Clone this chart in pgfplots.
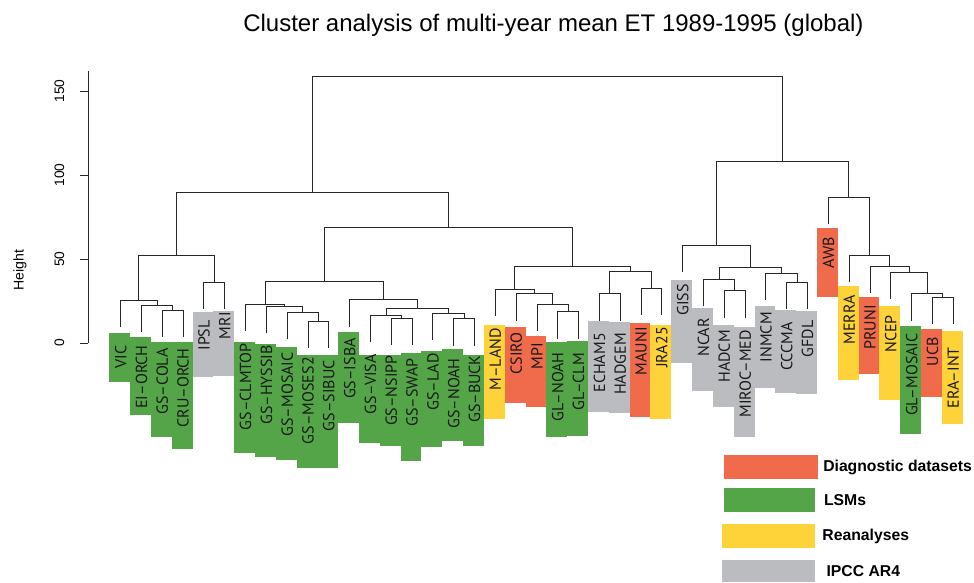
\documentclass[border=0pt]{standalone}
\usepackage{pgfplots}
\pgfplotsset{compat=1.18}
\usepackage{fontspec}
\setmainfont{Liberation Sans}
\newfontfamily\leaffont{PT Sans}
\definecolor{cRed}{RGB}{240,107,76}
\definecolor{cGreen}{RGB}{84,165,72}
\definecolor{cYellow}{RGB}{254,211,58}
\definecolor{cGray}{RGB}{187,188,191}
\tikzset{
  dend/.style={color=black!85, line width=0.75pt},
  lbl/.style={rotate=90, anchor=east, inner sep=0pt, font=\leaffont\fontsize{12}{13}\selectfont, text=black!90},
  leg/.style={anchor=west, inner sep=0pt, font=\bfseries\fontsize{11.8}{13}\selectfont},
}
\newcommand{\mrg}[5]{\addplot[dend] coordinates {(#1,#2) (#1,#5) (#3,#5) (#3,#4)};}
\newcommand{\bx}[5]{\addplot[fill=#1, draw=none] coordinates {(#2,#4) (#2,#5) (#3,#5) (#3,#4)} --cycle;}
\begin{document}
\begin{tikzpicture}
\begin{axis}[
  scale only axis, width=730.5pt, height=436.5pt,
  xmin=-4.799, xmax=41.995, ymin=-142.26, ymax=204.17,
  hide axis, clip=false,
]
% ---- label boxes: colour, x0, x1, bottom, top (height units)
\bx{cGreen}{0.45}{1.45}{-23.0}{5.8}
\bx{cGreen}{1.45}{2.45}{-42.9}{3.8}
\bx{cGreen}{2.45}{3.45}{-55.8}{0.4}
\bx{cGreen}{3.45}{4.45}{-63.0}{0.4}
\bx{cGray}{4.45}{5.45}{-20.0}{18.3}
\bx{cGray}{5.45}{6.45}{-19.5}{19.0}
\bx{cGreen}{6.45}{7.45}{-65.7}{0.4}
\bx{cGreen}{7.45}{8.45}{-67.7}{-0.6}
\bx{cGreen}{8.45}{9.45}{-69.6}{-2.2}
\bx{cGreen}{9.45}{10.45}{-74.6}{-7.1}
\bx{cGreen}{10.45}{11.45}{-74.6}{-7.1}
\bx{cGreen}{11.45}{12.45}{-47.8}{6.5}
\bx{cGreen}{12.45}{13.45}{-59.7}{-7.1}
\bx{cGreen}{13.45}{14.45}{-61.3}{-7.1}
\bx{cGreen}{14.45}{15.45}{-70.0}{-5.8}
\bx{cGreen}{15.45}{16.45}{-62.1}{-4.8}
\bx{cGreen}{16.45}{17.45}{-58.3}{-3.6}
\bx{cGreen}{17.45}{18.45}{-61.3}{-7.1}
\bx{cYellow}{18.45}{19.45}{-45.2}{10.7}
\bx{cRed}{19.45}{20.45}{-35.9}{9.7}
\bx{cRed}{20.45}{21.45}{-37.9}{4.2}
\bx{cGreen}{21.45}{22.45}{-55.8}{0.8}
\bx{cGreen}{22.45}{23.45}{-55.2}{1.2}
\bx{cGray}{23.45}{24.45}{-40.9}{13.3}
\bx{cGray}{24.45}{25.45}{-41.9}{12.7}
\bx{cRed}{25.45}{26.45}{-43.9}{12.1}
\bx{cYellow}{26.45}{27.45}{-45.2}{10.7}
\bx{cGray}{27.45}{28.45}{-11.7}{37.5}
\bx{cGray}{28.45}{29.45}{-28.6}{20.7}
\bx{cGray}{29.45}{30.45}{-38.3}{10.7}
\bx{cGray}{30.45}{31.45}{-55.8}{9.3}
\bx{cGray}{31.45}{32.45}{-27.0}{22.2}
\bx{cGray}{32.45}{33.45}{-29.6}{19.6}
\bx{cGray}{33.45}{34.45}{-30.4}{19.0}
\bx{cRed}{34.45}{35.45}{27.6}{68.3}
\bx{cYellow}{35.45}{36.45}{-22.0}{33.9}
\bx{cRed}{36.45}{37.45}{-18.6}{27.6}
\bx{cYellow}{37.45}{38.45}{-33.9}{22.0}
\bx{cGreen}{38.45}{39.45}{-54.2}{10.1}
\bx{cRed}{39.45}{40.45}{-32.3}{8.3}
\bx{cYellow}{40.45}{41.45}{-48.4}{7.3}
% ---- dendrogram merges: x1, top1, x2, top2, merge height
\mrg{3}{3.75}{4}{3.75}{19.6}
\mrg{2}{6.75}{3.5}{19.6}{22.6}
\mrg{1}{9.35}{2.75}{22.6}{25.2}
\mrg{5}{20.25}{6}{20.25}{36.1}
\mrg{1.875}{25.2}{5.5}{36.1}{51.8}
\mrg{10}{-3.15}{11}{-3.15}{12.7}
\mrg{9}{2.15}{10.5}{12.7}{18.0}
\mrg{8}{5.75}{9.75}{18.0}{21.6}
\mrg{7}{7.15}{8.875}{21.6}{23.0}
\mrg{14}{-1.15}{15}{-1.15}{14.7}
\mrg{13}{0.45}{14.5}{14.7}{16.3}
\mrg{17}{-1.55}{18}{-1.55}{14.3}
\mrg{16}{1.85}{17.5}{14.3}{17.7}
\mrg{13.75}{16.3}{16.75}{17.7}{20.6}
\mrg{12}{9.75}{15.25}{20.6}{25.6}
\mrg{7.9375}{23.0}{13.625}{25.6}{36.5}
\mrg{22}{2.65}{23}{2.65}{18.5}
\mrg{21}{7.15}{22.5}{18.5}{23.0}
\mrg{20}{13.35}{21.75}{23.0}{29.2}
\mrg{19}{16.05}{20.875}{29.2}{31.9}
\mrg{24}{13.35}{25}{13.35}{29.2}
\mrg{26}{16.65}{27}{16.65}{32.5}
\mrg{24.5}{29.2}{26.5}{32.5}{42.5}
\mrg{19.9375}{31.9}{25.5}{42.5}{45.8}
\mrg{10.78125}{36.5}{22.71875}{45.8}{69.0}
\mrg{3.6875}{51.8}{16.75}{69.0}{89.8}
\mrg{30}{15.15}{31}{15.15}{31.0}
\mrg{29}{22.05}{30.5}{31.0}{37.9}
\mrg{33}{20.25}{34}{20.25}{36.1}
\mrg{32}{25.65}{33.5}{36.1}{41.5}
\mrg{29.75}{37.9}{32.75}{41.5}{44.8}
\mrg{28}{42.45}{31.25}{44.8}{58.3}
\mrg{40}{11.35}{41}{11.35}{27.2}
\mrg{39}{13.35}{40.5}{27.2}{29.2}
\mrg{38}{26.25}{39.75}{29.2}{42.1}
\mrg{37}{29.95}{38.875}{42.1}{45.8}
\mrg{36}{36.15}{37.9375}{45.8}{52.0}
\mrg{35}{70.65}{36.96875}{52.0}{86.5}
\mrg{29.625}{58.3}{35.984375}{86.5}{108.3}
\mrg{10.21875}{89.8}{32.8046875}{108.3}{158.4}
% ---- y axis
\addplot[black!85, line width=0.75pt] coordinates {(-0.571,0) (-0.571,162)};
\addplot[black!85, line width=0.75pt] coordinates {(-0.955,0) (-0.571,0)};
\addplot[black!85, line width=0.75pt] coordinates {(-0.955,50) (-0.571,50)};
\addplot[black!85, line width=0.75pt] coordinates {(-0.955,100) (-0.571,100)};
\addplot[black!85, line width=0.75pt] coordinates {(-0.955,150) (-0.571,150)};
\node[rotate=90, font=\fontsize{10.3}{12}\selectfont, inner sep=0pt] at (axis cs:-1.95,0) {0};
\node[rotate=90, font=\fontsize{10.3}{12}\selectfont, inner sep=0pt] at (axis cs:-1.95,50) {50};
\node[rotate=90, font=\fontsize{10.3}{12}\selectfont, inner sep=0pt] at (axis cs:-1.95,100) {100};
\node[rotate=90, font=\fontsize{10.3}{12}\selectfont, inner sep=0pt] at (axis cs:-1.95,150) {150};
\node[rotate=90, font=\fontsize{10.6}{12}\selectfont, inner sep=0pt] at (axis cs:-3.838,43.5) {Height};
% ---- title
\node[font=\fontsize{18}{22}\selectfont, inner sep=0pt] at (axis cs:21.79,189.3) {Cluster analysis of multi-year mean ET 1989-1995 (global)};
% ---- leaf labels
\node[lbl] at (axis cs:1,-1.19) {VIC};
\node[lbl] at (axis cs:2,-1.19) {EI–ORCH};
\node[lbl] at (axis cs:3,-2.98) {GS–COLA};
\node[lbl] at (axis cs:4,-2.98) {CRU–ORCH};
\node[lbl] at (axis cs:5,13.69) {IPSL};
\node[lbl] at (axis cs:6,18.45) {MRI};
\node[lbl] at (axis cs:7,0) {GS–CLMTOP};
\node[lbl] at (axis cs:8,-1.19) {GS–HYSSIB};
\node[lbl] at (axis cs:9,-5.36) {GS–MOSAIC};
\node[lbl] at (axis cs:10,-8.33) {GS–MOSES2};
\node[lbl] at (axis cs:11,-10.12) {GS–SIBUC};
\node[lbl] at (axis cs:12,2.98) {GS–ISBA};
\node[lbl] at (axis cs:13,-6.55) {GS–VISA};
\node[lbl] at (axis cs:14,-7.14) {GS–NSIPP};
\node[lbl] at (axis cs:15,-8.93) {GS–SWAP};
\node[lbl] at (axis cs:16,-5.95) {GS–LAD};
\node[lbl] at (axis cs:17,-8.93) {GS–NOAH};
\node[lbl] at (axis cs:18,-7.14) {GS–BUCK};
\node[lbl] at (axis cs:19,8.93) {M–LAND};
\node[lbl] at (axis cs:20,6.55) {CSIRO};
\node[lbl] at (axis cs:21,0) {MPI};
\node[lbl] at (axis cs:22,-5.36) {GL–NOAH};
\node[lbl] at (axis cs:23,-5.95) {GL–CLM};
\node[lbl] at (axis cs:24,5.95) {ECHAM5};
\node[lbl] at (axis cs:25,5.95) {HADGEM};
\node[lbl] at (axis cs:26,9.52) {MAUNI};
\node[lbl] at (axis cs:27,9.52) {JRA25};
\node[lbl] at (axis cs:28,35.12) {GISS};
\node[lbl] at (axis cs:29,14.88) {NCAR};
\node[lbl] at (axis cs:30,7.74) {HADCM};
\node[lbl] at (axis cs:31,7.74) {MIROC–MED};
\node[lbl] at (axis cs:32,18.45) {INMCM};
\node[lbl] at (axis cs:33,12.5) {CCCMA};
\node[lbl] at (axis cs:34,13.69) {GFDL};
\node[lbl] at (axis cs:35,63.1) {AWB};
\node[lbl] at (axis cs:36,28.57) {MERRA};
\node[lbl] at (axis cs:37,22.62) {PRUNI};
\node[lbl] at (axis cs:38,16.67) {NCEP};
\node[lbl] at (axis cs:39,5.95) {GL–MOSAIC};
\node[lbl] at (axis cs:40,3.57) {UCB};
\node[lbl] at (axis cs:41,-2.38) {ERA–INT};
% ---- legend
\addplot[fill=cRed, draw=none] coordinates {(29.98,-80.95) (29.98,-66.67) (34.50,-66.67) (34.50,-80.95)} --cycle;
\addplot[fill=cGreen, draw=none] coordinates {(29.98,-100.6) (29.98,-86.31) (34.36,-86.31) (34.36,-100.6)} --cycle;
\addplot[fill=cYellow, draw=none] coordinates {(29.89,-122.02) (29.89,-107.74) (34.36,-107.74) (34.36,-122.02)} --cycle;
\addplot[fill=cGray, draw=none] coordinates {(29.89,-142.26) (29.89,-129.17) (34.36,-129.17) (34.36,-142.26)} --cycle;
\node[leg] at (axis cs:34.74,-73.81) {Diagnostic datasets};
\node[leg] at (axis cs:34.78,-93.45) {LSMs};
\node[leg] at (axis cs:34.70,-114.88) {Reanalyses};
\node[leg] at (axis cs:34.90,-135.71) {IPCC AR4};
\end{axis}
\pgfresetboundingbox
\path[use as bounding box] (current axis.south west) rectangle (current axis.north east);
\end{tikzpicture}
\end{document}
